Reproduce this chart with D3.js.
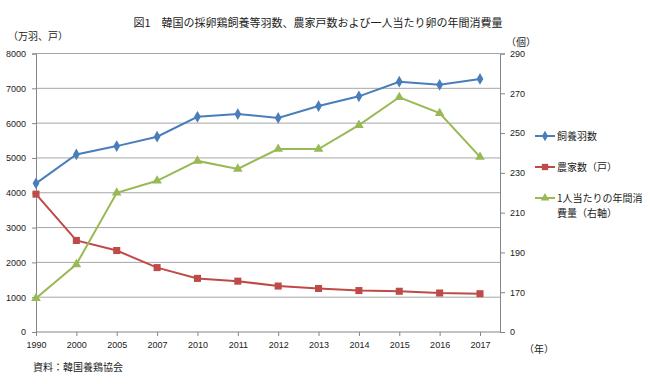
<!DOCTYPE html>
<html>
<head>
<meta charset="utf-8">
<script src="https://cdn.jsdelivr.net/npm/d3@7"></script>
<style>
  body { margin: 0; background: #fff; }
  svg { display: block; font-family: "Noto Sans CJK JP", "Liberation Sans", sans-serif; }
  .tick text { fill: #222; }
</style>
</head>
<body>
<svg width="650" height="384"></svg>
<script>
// data
const years = ["1990", "2000", "2005", "2007", "2010", "2011", "2012", "2013", "2014", "2015", "2016", "2017"];
const birds = [4270, 5100, 5340, 5610, 6180, 6260, 6150, 6490, 6770, 7190, 7100, 7270];   // 万羽
const farms = [3960, 2630, 2340, 1850, 1540, 1460, 1320, 1250, 1190, 1170, 1120, 1100];   // 戸
const eggs = [167, 184, 220, 226, 236, 232, 242, 242, 254, 268, 260, 238];                // 個/人
const leftTicks = [0, 1000, 2000, 3000, 4000, 5000, 6000, 7000, 8000];
const rightTicks = [150, 170, 190, 210, 230, 250, 270, 290];

const svg = d3.select("svg");
const plotL = 36, plotR = 500, plotT = 53.5, plotB = 332;

const x = d3.scalePoint().domain(years).range([plotL, 480]);
const yL = d3.scaleLinear().domain([0, 8000]).range([plotB, plotT]);
const yR = d3.scaleLinear().domain([150, 290]).range([plotB, plotT]);

// gridlines
svg.append("g")
  .selectAll("line")
  .data(leftTicks.slice(1))
  .enter().append("line")
  .attr("x1", plotL).attr("x2", plotR)
  .attr("y1", d => yL(d)).attr("y2", d => yL(d))
  .attr("stroke", "#a6a6a6").attr("stroke-width", 1);

// axes
const axL = svg.append("g")
  .attr("transform", `translate(${plotL},0)`)
  .call(d3.axisLeft(yL).tickValues(leftTicks).tickSize(4).tickPadding(6).tickFormat(d3.format("d")));
const axR = svg.append("g")
  .attr("transform", `translate(${plotR},0)`)
  .call(d3.axisRight(yR).tickValues(rightTicks).tickSize(5).tickPadding(5)
    .tickFormat(d => d === 150 ? "0" : d));
const axB = svg.append("g")
  .attr("transform", `translate(0,${plotB})`)
  .call(d3.axisBottom(x).tickSize(4).tickPadding(6));
axB.select(".domain").attr("d", `M${plotL},0H${plotR}`);

[axL, axR, axB].forEach(a => {
  a.selectAll(".domain, .tick line").attr("stroke", "#868686");
  a.selectAll("text").attr("font-size", 9).attr("font-family", "Liberation Sans, sans-serif");
});

// series
const series = [
  { name: "飼養羽数", values: birds, y: yL, color: "#4a7ebb", shape: d3.symbolDiamond, size: 40 },
  { name: "農家数(戸)", values: farms, y: yL, color: "#be4b48", shape: d3.symbolSquare, size: 50 },
  { name: "1人当たりの年間消費量(右軸)", values: eggs, y: yR, color: "#98b954", shape: d3.symbolTriangle, size: 40 }
];

series.forEach(s => {
  const pts = years.map((yr, i) => [x(yr), s.y(s.values[i])]);
  svg.append("path")
    .attr("d", d3.line()(pts))
    .attr("fill", "none")
    .attr("stroke", s.color)
    .attr("stroke-width", 2);
  svg.append("g")
    .selectAll("path")
    .data(pts)
    .enter().append("path")
    .attr("transform", d => `translate(${d[0]},${d[1]})`)
    .attr("d", d3.symbol().type(s.shape).size(s.size))
    .attr("fill", s.color);
});

// legend
const legendRows = [
  { s: series[0], y: 136, lines: ["飼養羽数"] },
  { s: series[1], y: 167, lines: ["農家数（戸）"] },
  { s: series[2], y: 198, lines: ["1人当たりの年間消", "費量（右軸）"] }
];
legendRows.forEach(r => {
  svg.append("line")
    .attr("x1", 535).attr("x2", 555)
    .attr("y1", r.y).attr("y2", r.y)
    .attr("stroke", r.s.color).attr("stroke-width", 2);
  svg.append("path")
    .attr("transform", `translate(545,${r.y})`)
    .attr("d", d3.symbol().type(r.s.shape).size(r.s.size * 0.8))
    .attr("fill", r.s.color);
  r.lines.forEach((t, i) => {
    svg.append("text")
      .attr("x", 557).attr("y", r.y + 3.5 + i * 15)
      .attr("font-size", 10).attr("fill", "#222")
      .text(t);
  });
});

// titles and notes
svg.append("text")
  .attr("x", 318).attr("y", 27)
  .attr("text-anchor", "middle")
  .attr("font-size", 11).attr("fill", "#222")
  .text("図1　韓国の採卵鶏飼養等羽数、農家戸数および一人当たり卵の年間消費量");
svg.append("text")
  .attr("x", 8).attr("y", 40)
  .attr("font-size", 10).attr("fill", "#222")
  .text("（万羽、戸）");
svg.append("text")
  .attr("x", 506).attr("y", 46)
  .attr("font-size", 10).attr("fill", "#222")
  .text("（個）");
svg.append("text")
  .attr("x", 524).attr("y", 353)
  .attr("font-size", 10).attr("fill", "#222")
  .text("（年）");
svg.append("text")
  .attr("x", 33).attr("y", 371)
  .attr("font-size", 10).attr("fill", "#222")
  .text("資料：韓国養鶏協会");
</script>
</body>
</html>
